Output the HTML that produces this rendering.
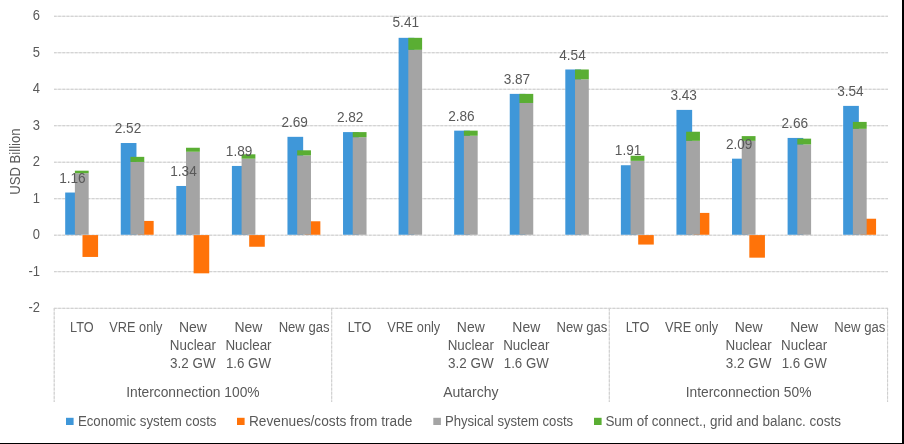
<!DOCTYPE html>
<html><head><meta charset="utf-8"><style>
html,body{margin:0;padding:0;background:#fff;}
body{width:904px;height:444px;overflow:hidden;position:relative;}
svg{position:absolute;left:0;top:0;will-change:transform;}
text{font-family:"Liberation Sans",sans-serif;fill:#595959;}
</style></head><body>
<svg width="904" height="444" viewBox="0 0 904 444">
<rect x="0" y="0" width="904" height="444" fill="#fff"/>
<line x1="54.0" y1="271.69" x2="888" y2="271.69" stroke="#E2E2E2" stroke-width="1"/>
<line x1="54.0" y1="271.69" x2="888" y2="271.69" stroke="#CDCDCD" stroke-width="1" stroke-dasharray="2.6 1.6"/>
<line x1="54.0" y1="235.20" x2="888" y2="235.20" stroke="#E2E2E2" stroke-width="1"/>
<line x1="54.0" y1="235.20" x2="888" y2="235.20" stroke="#CDCDCD" stroke-width="1" stroke-dasharray="2.6 1.6"/>
<line x1="54.0" y1="198.71" x2="888" y2="198.71" stroke="#E2E2E2" stroke-width="1"/>
<line x1="54.0" y1="198.71" x2="888" y2="198.71" stroke="#CDCDCD" stroke-width="1" stroke-dasharray="2.6 1.6"/>
<line x1="54.0" y1="162.22" x2="888" y2="162.22" stroke="#E2E2E2" stroke-width="1"/>
<line x1="54.0" y1="162.22" x2="888" y2="162.22" stroke="#CDCDCD" stroke-width="1" stroke-dasharray="2.6 1.6"/>
<line x1="54.0" y1="125.73" x2="888" y2="125.73" stroke="#E2E2E2" stroke-width="1"/>
<line x1="54.0" y1="125.73" x2="888" y2="125.73" stroke="#CDCDCD" stroke-width="1" stroke-dasharray="2.6 1.6"/>
<line x1="54.0" y1="89.24" x2="888" y2="89.24" stroke="#E2E2E2" stroke-width="1"/>
<line x1="54.0" y1="89.24" x2="888" y2="89.24" stroke="#CDCDCD" stroke-width="1" stroke-dasharray="2.6 1.6"/>
<line x1="54.0" y1="52.75" x2="888" y2="52.75" stroke="#E2E2E2" stroke-width="1"/>
<line x1="54.0" y1="52.75" x2="888" y2="52.75" stroke="#CDCDCD" stroke-width="1" stroke-dasharray="2.6 1.6"/>
<line x1="54.0" y1="16.26" x2="888" y2="16.26" stroke="#E2E2E2" stroke-width="1"/>
<line x1="54.0" y1="16.26" x2="888" y2="16.26" stroke="#CDCDCD" stroke-width="1" stroke-dasharray="2.6 1.6"/>
<text x="40.0" y="312.2" text-anchor="end" font-size="14" textLength="11.5" lengthAdjust="spacingAndGlyphs">-2</text>
<text x="40.0" y="275.7" text-anchor="end" font-size="14" textLength="11.5" lengthAdjust="spacingAndGlyphs">-1</text>
<text x="40.0" y="239.2" text-anchor="end" font-size="14" textLength="7.2" lengthAdjust="spacingAndGlyphs">0</text>
<text x="40.0" y="202.7" text-anchor="end" font-size="14" textLength="7.2" lengthAdjust="spacingAndGlyphs">1</text>
<text x="40.0" y="166.2" text-anchor="end" font-size="14" textLength="7.2" lengthAdjust="spacingAndGlyphs">2</text>
<text x="40.0" y="129.7" text-anchor="end" font-size="14" textLength="7.2" lengthAdjust="spacingAndGlyphs">3</text>
<text x="40.0" y="93.2" text-anchor="end" font-size="14" textLength="7.2" lengthAdjust="spacingAndGlyphs">4</text>
<text x="40.0" y="56.7" text-anchor="end" font-size="14" textLength="7.2" lengthAdjust="spacingAndGlyphs">5</text>
<text x="40.0" y="20.3" text-anchor="end" font-size="14" textLength="7.2" lengthAdjust="spacingAndGlyphs">6</text>
<rect x="65.19" y="192.53" width="15.7" height="42.22" fill="#3F97D9"/>
<rect x="82.48" y="235.10" width="15.6" height="21.84" fill="#FF7309"/>
<rect x="74.88" y="173.23" width="13.8" height="61.52" fill="#A4A4A4"/>
<rect x="74.88" y="170.69" width="13.8" height="2.55" fill="#5AAE33"/>
<rect x="120.76" y="143.02" width="15.7" height="91.73" fill="#3F97D9"/>
<rect x="138.06" y="220.92" width="15.6" height="13.83" fill="#FF7309"/>
<rect x="130.46" y="161.95" width="13.8" height="72.80" fill="#A4A4A4"/>
<rect x="130.46" y="156.85" width="13.8" height="5.10" fill="#5AAE33"/>
<rect x="176.33" y="185.97" width="15.7" height="48.78" fill="#3F97D9"/>
<rect x="193.62" y="235.10" width="15.6" height="38.22" fill="#FF7309"/>
<rect x="186.03" y="151.76" width="13.8" height="82.99" fill="#A4A4A4"/>
<rect x="186.03" y="147.75" width="13.8" height="4.00" fill="#5AAE33"/>
<rect x="231.90" y="165.95" width="15.7" height="68.80" fill="#3F97D9"/>
<rect x="249.19" y="235.10" width="15.6" height="11.65" fill="#FF7309"/>
<rect x="241.59" y="158.67" width="13.8" height="76.08" fill="#A4A4A4"/>
<rect x="241.59" y="154.31" width="13.8" height="4.37" fill="#5AAE33"/>
<rect x="287.46" y="136.83" width="15.7" height="97.92" fill="#3F97D9"/>
<rect x="304.76" y="221.28" width="15.6" height="13.47" fill="#FF7309"/>
<rect x="297.17" y="155.40" width="13.8" height="79.35" fill="#A4A4A4"/>
<rect x="297.17" y="150.30" width="13.8" height="5.10" fill="#5AAE33"/>
<rect x="343.03" y="132.10" width="15.7" height="102.65" fill="#3F97D9"/>
<rect x="352.74" y="137.20" width="13.8" height="97.55" fill="#A4A4A4"/>
<rect x="352.74" y="132.10" width="13.8" height="5.10" fill="#5AAE33"/>
<rect x="398.60" y="37.83" width="15.7" height="196.92" fill="#3F97D9"/>
<rect x="408.31" y="49.84" width="13.8" height="184.91" fill="#A4A4A4"/>
<rect x="408.31" y="37.83" width="13.8" height="12.01" fill="#5AAE33"/>
<rect x="454.17" y="130.65" width="15.7" height="104.10" fill="#3F97D9"/>
<rect x="463.88" y="135.74" width="13.8" height="99.01" fill="#A4A4A4"/>
<rect x="463.88" y="130.65" width="13.8" height="5.10" fill="#5AAE33"/>
<rect x="509.75" y="93.88" width="15.7" height="140.87" fill="#3F97D9"/>
<rect x="519.45" y="102.98" width="13.8" height="131.77" fill="#A4A4A4"/>
<rect x="519.45" y="93.88" width="13.8" height="9.10" fill="#5AAE33"/>
<rect x="565.31" y="69.49" width="15.7" height="165.26" fill="#3F97D9"/>
<rect x="575.01" y="79.32" width="13.8" height="155.43" fill="#A4A4A4"/>
<rect x="575.01" y="69.49" width="13.8" height="9.83" fill="#5AAE33"/>
<rect x="620.88" y="165.23" width="15.7" height="69.52" fill="#3F97D9"/>
<rect x="638.19" y="235.10" width="15.6" height="9.46" fill="#FF7309"/>
<rect x="630.59" y="160.86" width="13.8" height="73.89" fill="#A4A4A4"/>
<rect x="630.59" y="155.76" width="13.8" height="5.10" fill="#5AAE33"/>
<rect x="676.45" y="109.90" width="15.7" height="124.85" fill="#3F97D9"/>
<rect x="693.75" y="212.91" width="15.6" height="21.84" fill="#FF7309"/>
<rect x="686.15" y="140.84" width="13.8" height="93.91" fill="#A4A4A4"/>
<rect x="686.15" y="131.74" width="13.8" height="9.10" fill="#5AAE33"/>
<rect x="732.02" y="158.67" width="15.7" height="76.08" fill="#3F97D9"/>
<rect x="749.33" y="235.10" width="15.6" height="22.57" fill="#FF7309"/>
<rect x="741.73" y="140.84" width="13.8" height="93.91" fill="#A4A4A4"/>
<rect x="741.73" y="136.11" width="13.8" height="4.73" fill="#5AAE33"/>
<rect x="787.60" y="137.93" width="15.7" height="96.82" fill="#3F97D9"/>
<rect x="797.30" y="144.48" width="13.8" height="90.27" fill="#A4A4A4"/>
<rect x="797.30" y="138.65" width="13.8" height="5.82" fill="#5AAE33"/>
<rect x="843.16" y="105.89" width="15.7" height="128.86" fill="#3F97D9"/>
<rect x="860.47" y="218.73" width="15.6" height="16.02" fill="#FF7309"/>
<rect x="852.87" y="128.83" width="13.8" height="105.92" fill="#A4A4A4"/>
<rect x="852.87" y="121.91" width="13.8" height="6.92" fill="#5AAE33"/>
<text x="72.4" y="183.2" text-anchor="middle" font-size="14" textLength="26.5" lengthAdjust="spacingAndGlyphs">1.16</text>
<text x="128.0" y="133.0" text-anchor="middle" font-size="14" textLength="26.5" lengthAdjust="spacingAndGlyphs">2.52</text>
<text x="183.5" y="176.0" text-anchor="middle" font-size="14" textLength="26.5" lengthAdjust="spacingAndGlyphs">1.34</text>
<text x="239.1" y="156.0" text-anchor="middle" font-size="14" textLength="26.5" lengthAdjust="spacingAndGlyphs">1.89</text>
<text x="294.7" y="126.8" text-anchor="middle" font-size="14" textLength="26.5" lengthAdjust="spacingAndGlyphs">2.69</text>
<text x="350.2" y="122.1" text-anchor="middle" font-size="14" textLength="26.5" lengthAdjust="spacingAndGlyphs">2.82</text>
<text x="405.8" y="26.8" text-anchor="middle" font-size="14" textLength="26.5" lengthAdjust="spacingAndGlyphs">5.41</text>
<text x="461.4" y="120.6" text-anchor="middle" font-size="14" textLength="26.5" lengthAdjust="spacingAndGlyphs">2.86</text>
<text x="516.9" y="83.9" text-anchor="middle" font-size="14" textLength="26.5" lengthAdjust="spacingAndGlyphs">3.87</text>
<text x="572.5" y="59.5" text-anchor="middle" font-size="14" textLength="26.5" lengthAdjust="spacingAndGlyphs">4.54</text>
<text x="628.1" y="155.2" text-anchor="middle" font-size="14" textLength="26.5" lengthAdjust="spacingAndGlyphs">1.91</text>
<text x="683.7" y="99.9" text-anchor="middle" font-size="14" textLength="26.5" lengthAdjust="spacingAndGlyphs">3.43</text>
<text x="739.2" y="148.7" text-anchor="middle" font-size="14" textLength="26.5" lengthAdjust="spacingAndGlyphs">2.09</text>
<text x="794.8" y="127.9" text-anchor="middle" font-size="14" textLength="26.5" lengthAdjust="spacingAndGlyphs">2.66</text>
<text x="850.4" y="95.9" text-anchor="middle" font-size="14" textLength="26.5" lengthAdjust="spacingAndGlyphs">3.54</text>
<line x1="54.0" y1="308.3" x2="888" y2="308.3" stroke="#E2E2E2"/>
<line x1="54.0" y1="308.3" x2="888" y2="308.3" stroke="#CDCDCD" stroke-dasharray="2.6 1.6"/>
<line x1="54.2" y1="308" x2="54.2" y2="402" stroke="#E2E2E2"/>
<line x1="54.2" y1="308" x2="54.2" y2="402" stroke="#CDCDCD" stroke-dasharray="2.6 1.6"/>
<line x1="331.7" y1="308" x2="331.7" y2="402" stroke="#E2E2E2"/>
<line x1="331.7" y1="308" x2="331.7" y2="402" stroke="#CDCDCD" stroke-dasharray="2.6 1.6"/>
<line x1="609.3" y1="308" x2="609.3" y2="402" stroke="#E2E2E2"/>
<line x1="609.3" y1="308" x2="609.3" y2="402" stroke="#CDCDCD" stroke-dasharray="2.6 1.6"/>
<line x1="887.6" y1="308" x2="887.6" y2="402" stroke="#E2E2E2"/>
<line x1="887.6" y1="308" x2="887.6" y2="402" stroke="#CDCDCD" stroke-dasharray="2.6 1.6"/>
<text x="81.8" y="332.0" text-anchor="middle" font-size="14" textLength="23.5" lengthAdjust="spacingAndGlyphs">LTO</text>
<text x="135.9" y="332.0" text-anchor="middle" font-size="14" textLength="53.1" lengthAdjust="spacingAndGlyphs">VRE only</text>
<text x="192.9" y="332.0" text-anchor="middle" font-size="14" textLength="27.9" lengthAdjust="spacingAndGlyphs">New</text>
<text x="192.9" y="350.0" text-anchor="middle" font-size="14" textLength="46.2" lengthAdjust="spacingAndGlyphs">Nuclear</text>
<text x="192.9" y="368.0" text-anchor="middle" font-size="14" textLength="45.6" lengthAdjust="spacingAndGlyphs">3.2 GW</text>
<text x="248.5" y="332.0" text-anchor="middle" font-size="14" textLength="27.9" lengthAdjust="spacingAndGlyphs">New</text>
<text x="248.5" y="350.0" text-anchor="middle" font-size="14" textLength="46.2" lengthAdjust="spacingAndGlyphs">Nuclear</text>
<text x="248.5" y="368.0" text-anchor="middle" font-size="14" textLength="45.1" lengthAdjust="spacingAndGlyphs">1.6 GW</text>
<text x="304.1" y="332.0" text-anchor="middle" font-size="14" textLength="50.9" lengthAdjust="spacingAndGlyphs">New gas</text>
<text x="359.6" y="332.0" text-anchor="middle" font-size="14" textLength="23.5" lengthAdjust="spacingAndGlyphs">LTO</text>
<text x="413.7" y="332.0" text-anchor="middle" font-size="14" textLength="53.1" lengthAdjust="spacingAndGlyphs">VRE only</text>
<text x="470.8" y="332.0" text-anchor="middle" font-size="14" textLength="27.9" lengthAdjust="spacingAndGlyphs">New</text>
<text x="470.8" y="350.0" text-anchor="middle" font-size="14" textLength="46.2" lengthAdjust="spacingAndGlyphs">Nuclear</text>
<text x="470.8" y="368.0" text-anchor="middle" font-size="14" textLength="45.6" lengthAdjust="spacingAndGlyphs">3.2 GW</text>
<text x="526.3" y="332.0" text-anchor="middle" font-size="14" textLength="27.9" lengthAdjust="spacingAndGlyphs">New</text>
<text x="526.3" y="350.0" text-anchor="middle" font-size="14" textLength="46.2" lengthAdjust="spacingAndGlyphs">Nuclear</text>
<text x="526.3" y="368.0" text-anchor="middle" font-size="14" textLength="45.1" lengthAdjust="spacingAndGlyphs">1.6 GW</text>
<text x="581.9" y="332.0" text-anchor="middle" font-size="14" textLength="50.9" lengthAdjust="spacingAndGlyphs">New gas</text>
<text x="637.5" y="332.0" text-anchor="middle" font-size="14" textLength="23.5" lengthAdjust="spacingAndGlyphs">LTO</text>
<text x="691.6" y="332.0" text-anchor="middle" font-size="14" textLength="53.1" lengthAdjust="spacingAndGlyphs">VRE only</text>
<text x="748.6" y="332.0" text-anchor="middle" font-size="14" textLength="27.9" lengthAdjust="spacingAndGlyphs">New</text>
<text x="748.6" y="350.0" text-anchor="middle" font-size="14" textLength="46.2" lengthAdjust="spacingAndGlyphs">Nuclear</text>
<text x="748.6" y="368.0" text-anchor="middle" font-size="14" textLength="45.6" lengthAdjust="spacingAndGlyphs">3.2 GW</text>
<text x="804.2" y="332.0" text-anchor="middle" font-size="14" textLength="27.9" lengthAdjust="spacingAndGlyphs">New</text>
<text x="804.2" y="350.0" text-anchor="middle" font-size="14" textLength="46.2" lengthAdjust="spacingAndGlyphs">Nuclear</text>
<text x="804.2" y="368.0" text-anchor="middle" font-size="14" textLength="45.1" lengthAdjust="spacingAndGlyphs">1.6 GW</text>
<text x="859.8" y="332.0" text-anchor="middle" font-size="14" textLength="50.9" lengthAdjust="spacingAndGlyphs">New gas</text>
<text x="192.9" y="396.8" text-anchor="middle" font-size="14" textLength="133.4" lengthAdjust="spacingAndGlyphs">Interconnection 100%</text>
<text x="470.8" y="396.8" text-anchor="middle" font-size="14">Autarchy</text>
<text x="748.6" y="396.8" text-anchor="middle" font-size="14" textLength="125.7" lengthAdjust="spacingAndGlyphs">Interconnection 50%</text>
<text transform="translate(20.3,161.6) rotate(-90)" text-anchor="middle" font-size="14" textLength="66.4" lengthAdjust="spacingAndGlyphs">USD Billion</text>
<rect x="66" y="417.8" width="7.6" height="7.2" fill="#3F97D9"/>
<text x="77.9" y="425.8" text-anchor="start" font-size="14" textLength="138.6" lengthAdjust="spacingAndGlyphs">Economic system costs</text>
<rect x="237" y="417.8" width="7.6" height="7.2" fill="#FF7309"/>
<text x="249.0" y="425.8" text-anchor="start" font-size="14" textLength="163.4" lengthAdjust="spacingAndGlyphs">Revenues/costs from trade</text>
<rect x="433.3" y="417.8" width="7.6" height="7.2" fill="#A4A4A4"/>
<text x="444.9" y="425.8" text-anchor="start" font-size="14" textLength="128.3" lengthAdjust="spacingAndGlyphs">Physical system costs</text>
<rect x="594" y="417.8" width="7.6" height="7.2" fill="#5AAE33"/>
<text x="605.4" y="425.8" text-anchor="start" font-size="14" textLength="235.6" lengthAdjust="spacingAndGlyphs">Sum of connect., grid and balanc. costs</text>
<rect x="902" y="0" width="2" height="444" fill="#000"/>
<rect x="0" y="443" width="904" height="1" fill="#000"/>
</svg>
</body></html>
